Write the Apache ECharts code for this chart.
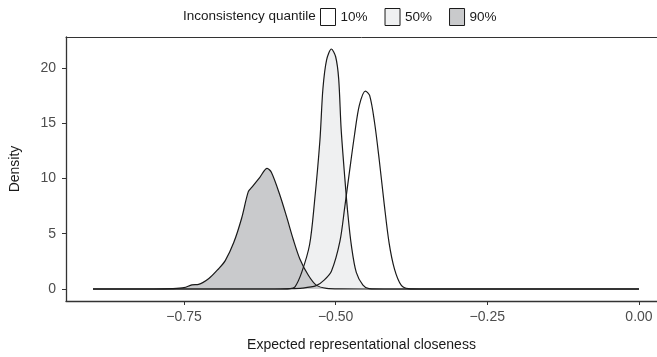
<!DOCTYPE html>
<html>
<head>
<meta charset="utf-8">
<script src="https://cdn.jsdelivr.net/npm/echarts@6/dist/echarts.min.js"></script>
<style>
  html, body { margin: 0; padding: 0; background: #fff; }
  #main { width: 657px; height: 357px; }
</style>
</head>
<body>
<div id="main"></div>
<script>
// density curves
var groups = ['10%', '50%', '90%'];
var fills = ['#ffffff', '#eff0f1', '#c9cacc'];

var tenX = [-0.90, -0.60, -0.58, -0.555, -0.532, -0.519, -0.507, -0.493, -0.485, -0.477, -0.469, -0.461, -0.451, -0.444, -0.436, -0.428, -0.420, -0.412, -0.403, -0.392, -0.380, -0.36, 0.00];
var tenY = [0, 0, 0.02, 0.08, 0.3, 0.8, 1.6, 4.3, 7.4, 10.7, 13.9, 16.6, 17.9, 17.5, 15.1, 11.6, 7.7, 4.2, 1.8, 0.35, 0.03, 0, 0];

var fiftyX = [-0.90, -0.60, -0.575, -0.567, -0.556, -0.543, -0.535, -0.526, -0.521, -0.515, -0.507, -0.500, -0.495, -0.491, -0.485, -0.480, -0.474, -0.466, -0.455, -0.445, -0.42, 0.00];
var fiftyY = [0, 0, 0.03, 0.2, 1.5, 4.0, 7.8, 13.4, 18.1, 20.7, 21.7, 21.0, 19.0, 14.5, 10.1, 6.85, 3.9, 1.5, 0.35, 0.03, 0, 0];

var ninetyX = [-0.90, -0.80, -0.77, -0.750, -0.737, -0.726, -0.709, -0.693, -0.682, -0.668, -0.655, -0.644, -0.638, -0.625, -0.613, -0.606, -0.592, -0.581, -0.570, -0.559, -0.545, -0.532, -0.515, -0.49, -0.45, 0.00];
var ninetyY = [0, 0, 0.03, 0.12, 0.38, 0.42, 0.95, 1.83, 2.57, 4.2, 6.4, 8.8, 9.2, 10.1, 10.9, 10.55, 8.5, 6.56, 4.5, 2.72, 1.24, 0.35, 0.06, 0.01, 0, 0];

var xTicks = [-0.75, -0.5, -0.25, 0];
var yTicks = [0, 5, 10, 15, 20];

function pairs(xs, ys) {
  return xs.map(function (x, i) { return [x, ys[i]]; });
}

var curves = [pairs(tenX, tenY), pairs(fiftyX, fiftyY), pairs(ninetyX, ninetyY)];

var series = [];
// fills first, outlines on top so every line shows
curves.forEach(function (d, i) {
  series.push({
    name: groups[i],
    type: 'line',
    data: d,
    smooth: 0.3,
    symbol: 'none',
    z: 2 + i,
    lineStyle: { width: 0 },
    itemStyle: { color: fills[i], borderColor: '#1a1a1a', borderWidth: 1 },
    areaStyle: { color: fills[i], opacity: 1 }
  });
});
curves.forEach(function (d, i) {
  series.push({
    name: groups[i],
    type: 'line',
    data: d,
    smooth: 0.3,
    symbol: 'none',
    z: 10,
    silent: true,
    lineStyle: { color: '#1a1a1a', width: 1.2 }
  });
});

var font = 'Liberation Sans, Arial, sans-serif';

var chart = echarts.init(document.getElementById('main'));
chart.setOption({
  animation: false,
  textStyle: { fontFamily: font },
  title: {
    text: 'Inconsistency quantile',
    left: 183,
    top: 9,
    padding: 0,
    textStyle: { fontSize: 13.5, fontWeight: 'normal', color: '#1a1a1a', fontFamily: font }
  },
  legend: {
    data: groups.map(function (g, i) {
      return { name: g, icon: 'rect', itemStyle: { color: fills[i], borderColor: '#1a1a1a', borderWidth: 1 } };
    }),
    left: 320,
    top: 8,
    padding: 0,
    itemWidth: 15,
    itemHeight: 17,
    itemGap: 17,
    textStyle: { fontSize: 13.5, color: '#1a1a1a', fontFamily: font }
  },
  grid: { left: 64, right: 0, top: 37, bottom: 52 },
  xAxis: [{
    type: 'value',
    min: -0.9445, max: 0.0297,
    name: 'Expected representational closeness',
    nameLocation: 'middle',
    nameGap: 37,
    nameTextStyle: { fontSize: 14, color: '#1a1a1a' },
    axisLine: { onZero: false, lineStyle: { color: '#333', width: 1.3 } },
    axisTick: { customValues: xTicks, length: 4, lineStyle: { color: '#333' } },
    axisLabel: {
      customValues: xTicks, fontSize: 14, color: '#4d4d4d', margin: 9,
      formatter: function (v) { return v.toFixed(2).replace('-', '\u2212'); }
    },
    splitLine: { show: false }
  }, {
    // top edge of the panel
    type: 'value',
    position: 'top',
    min: -0.9445, max: 0.0297,
    axisLine: { onZero: false, lineStyle: { color: '#333', width: 1 } },
    axisTick: { show: false },
    axisLabel: { show: false },
    splitLine: { show: false }
  }],
  yAxis: {
    type: 'value',
    min: -1.085, max: 22.785,
    name: 'Density',
    nameLocation: 'middle',
    nameGap: 44,
    nameTextStyle: { fontSize: 14, color: '#1a1a1a' },
    axisLine: { onZero: false, lineStyle: { color: '#333', width: 1.3 } },
    axisTick: { show: true, customValues: yTicks, length: 4, lineStyle: { color: '#333' } },
    axisLabel: { customValues: yTicks, fontSize: 14, color: '#4d4d4d', margin: 10 },
    splitLine: { show: false }
  },
  series: series
});
</script>
</body>
</html>
